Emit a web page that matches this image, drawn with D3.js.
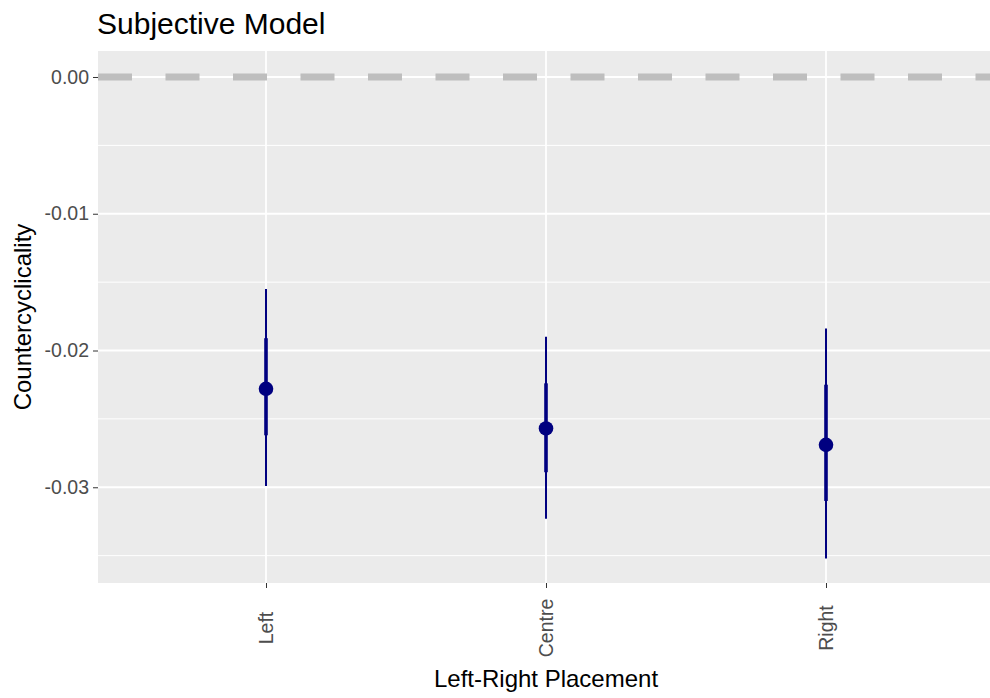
<!DOCTYPE html>
<html>
<head>
<meta charset="utf-8">
<script src="https://cdn.jsdelivr.net/npm/d3@7"></script>
<style>
  body { margin: 0; background: #fff; }
  text { font-family: "Liberation Sans", Arial, sans-serif; }
</style>
</head>
<body>
<div id="chart"></div>
<script>
// estimates
const categories = ['Left', 'Centre', 'Right'];
const estimate = [-0.0228, -0.0257, -0.0269];
const lower95 = [-0.0299, -0.0323, -0.0352];
const upper95 = [-0.0155, -0.0190, -0.0184];
const lower90 = [-0.0262, -0.0289, -0.0310];
const upper90 = [-0.0191, -0.0224, -0.0225];
const yTicks = [0, -0.01, -0.02, -0.03];
const yMinor = [-0.005, -0.015, -0.025, -0.035];

const width = 990;
const height = 698;
const panelLeft = 98, panelRight = 994, panelTop = 51, panelBottom = 583;

const svg = d3.select('#chart')
    .append('svg')
    .attr('width', width)
    .attr('height', height);

const x = d3.scalePoint()
    .domain(categories)
    .range([panelLeft, panelRight])
    .padding(0.6);

const y = d3.scaleLinear()
    .domain([-0.0370, 0.0019])
    .range([panelBottom, panelTop]);

// panel
svg.append('rect')
    .attr('x', panelLeft)
    .attr('y', panelTop)
    .attr('width', panelRight - panelLeft)
    .attr('height', panelBottom - panelTop)
    .attr('fill', '#ebebeb');

svg.selectAll('.minor')
    .data(yMinor)
    .enter()
    .append('line')
    .attr('x1', panelLeft).attr('x2', panelRight)
    .attr('y1', d => y(d)).attr('y2', d => y(d))
    .attr('stroke', '#fff')
    .attr('stroke-width', 1);

svg.selectAll('.major')
    .data(yTicks)
    .enter()
    .append('line')
    .attr('x1', panelLeft).attr('x2', panelRight)
    .attr('y1', d => y(d)).attr('y2', d => y(d))
    .attr('stroke', '#fff')
    .attr('stroke-width', 1.8);

svg.selectAll('.vgrid')
    .data(categories)
    .enter()
    .append('line')
    .attr('x1', d => x(d)).attr('x2', d => x(d))
    .attr('y1', panelTop).attr('y2', panelBottom)
    .attr('stroke', '#fff')
    .attr('stroke-width', 1.8);

// zero reference line
svg.append('line')
    .attr('x1', panelLeft).attr('x2', panelRight)
    .attr('y1', y(0)).attr('y2', y(0))
    .attr('stroke', '#bebebe')
    .attr('stroke-width', 7)
    .attr('stroke-dasharray', '34,33.5');

// intervals and points
const cats = categories.map((c, i) => ({c, i}));

svg.selectAll('.ci95')
    .data(cats)
    .enter()
    .append('line')
    .attr('x1', d => x(d.c)).attr('x2', d => x(d.c))
    .attr('y1', d => y(upper95[d.i])).attr('y2', d => y(lower95[d.i]))
    .attr('stroke', '#000080')
    .attr('stroke-width', 2);

svg.selectAll('.ci90')
    .data(cats)
    .enter()
    .append('line')
    .attr('x1', d => x(d.c)).attr('x2', d => x(d.c))
    .attr('y1', d => y(upper90[d.i])).attr('y2', d => y(lower90[d.i]))
    .attr('stroke', '#000080')
    .attr('stroke-width', 3.6);

svg.selectAll('.pt')
    .data(cats)
    .enter()
    .append('circle')
    .attr('cx', d => x(d.c))
    .attr('cy', d => y(estimate[d.i]))
    .attr('r', 7.3)
    .attr('fill', '#000080');

// axes
const yAxis = svg.append('g')
    .attr('transform', `translate(${panelLeft},0)`)
    .call(d3.axisLeft(y).tickValues(yTicks).tickSize(5).tickPadding(4)
        .tickFormat(d => d === 0 ? '0.00' : d3.format('.2f')(d).replace('−', '-')));
yAxis.select('.domain').remove();
yAxis.selectAll('line').attr('stroke', '#333');
yAxis.selectAll('text')
    .attr('fill', '#4d4d4d')
    .style('font-size', '19.5px')
    .style('font-family', '"Liberation Sans", Arial, sans-serif');

const xAxis = svg.append('g')
    .attr('transform', `translate(0,${panelBottom})`)
    .call(d3.axisBottom(x).tickSize(5));
xAxis.select('.domain').remove();
xAxis.selectAll('line').attr('stroke', '#333');
xAxis.selectAll('text')
    .attr('fill', '#4d4d4d')
    .attr('transform', 'translate(0,45) rotate(-90)')
    .attr('x', 0)
    .attr('y', 0)
    .attr('dy', '0.35em')
    .attr('text-anchor', 'middle')
    .style('font-size', '19.5px')
    .style('font-family', '"Liberation Sans", Arial, sans-serif');

// titles
svg.append('text')
    .attr('x', 97)
    .attr('y', 34)
    .attr('fill', '#000')
    .style('font-size', '30px')
    .text('Subjective Model');

svg.append('text')
    .attr('x', (panelLeft + panelRight) / 2)
    .attr('y', 687)
    .attr('text-anchor', 'middle')
    .attr('fill', '#000')
    .style('font-size', '24px')
    .text('Left-Right Placement');

svg.append('text')
    .attr('transform', `translate(31,${(panelTop + panelBottom) / 2}) rotate(-90)`)
    .attr('text-anchor', 'middle')
    .attr('fill', '#000')
    .style('font-size', '24px')
    .text('Countercyclicality');
</script>
</body>
</html>
